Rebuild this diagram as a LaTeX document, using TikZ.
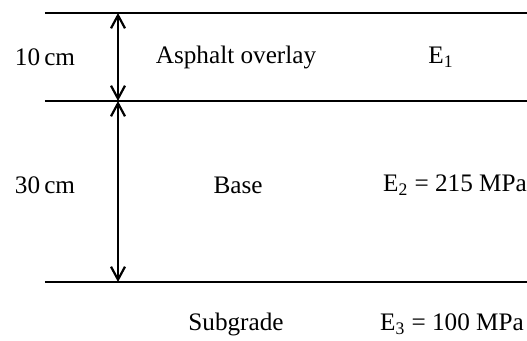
\documentclass[tikz,border=0pt]{standalone}
\usepackage{fontspec}
\setmainfont{Liberation Serif}
\usetikzlibrary{arrows.meta}

\begin{document}
\begin{tikzpicture}[x=0.5pt, y=-0.5pt,
    layerLine/.style={line width=1.1pt},
    dimArrow/.style={line width=1.1pt, {Straight Barb[length=6.5pt, width=7pt]}-{Straight Barb[length=6.5pt, width=7pt]}},
    label/.style={font=\fontsize{12.6}{15}\selectfont, inner sep=0pt}]
    \definecolor{lineColour}{HTML}{000000}

    \def\leftEdge{45}
    \def\rightEdge{527}
    \def\arrowX{118}

    \useasboundingbox (0,0) rectangle (527,341);

    % Define layer boundaries
    \coordinate (T) at (\arrowX,13);
    \coordinate (M) at (\arrowX,101);
    \coordinate (B) at (\arrowX,282);

    % Draw layer boundaries
    \foreach \y in {13,101,282}
        \draw[layerLine, draw=lineColour] (\leftEdge,\y) -- (\rightEdge,\y);

    % Draw thickness arrows
    \draw[dimArrow] (T) -- (M);
    \draw[dimArrow] (M) -- (B);

    % Label thicknesses
    \node[label] (thickA) at (45,57) {10\,cm};
    \node[label] (thickB) at (45,185) {30\,cm};

    % Label layers
    \node[label] (asphalt) at (236,57) {Asphalt overlay};
    \node[label] (base) at (238,185) {Base};
    \node[label] (subgrade) at (236,324) {Subgrade};

    % Label moduli
    \node[label] (modA) at (441,57) {E\textsubscript{1}};
    \node[label] (modB) at (455,185) {E\textsubscript{2} = 215 MPa};
    \node[label] (modC) at (452,324) {E\textsubscript{3} = 100 MPa};

\end{tikzpicture}
\end{document}
